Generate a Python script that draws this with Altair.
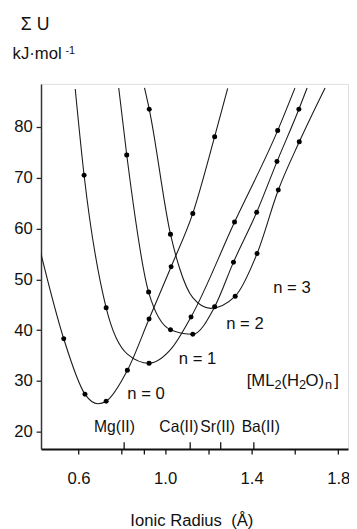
import altair as alt
import pandas as pd

# ---- curve vertices (ionic radius in Å, ΣU in kJ/mol) ----
n0_x = [0.427, 0.532, 0.630, 0.690, 0.728, 0.826, 0.926, 1.028, 1.128, 1.229, 1.289]
n0_y = [55.0, 38.3, 27.4, 25.5, 26.0, 32.1, 42.2, 52.5, 63.0, 78.1, 87.6]
n1_x = [0.585, 0.626, 0.728, 0.826, 0.926, 1.030, 1.120, 1.321, 1.520, 1.600]
n1_y = [87.5, 70.5, 44.4, 35.3, 33.5, 36.4, 42.6, 61.3, 79.3, 87.7]
n2_x = [0.786, 0.823, 0.924, 1.025, 1.128, 1.229, 1.316, 1.423, 1.517, 1.618, 1.656]
n2_y = [87.7, 74.5, 47.5, 40.1, 39.2, 44.6, 53.4, 63.2, 73.2, 83.5, 87.7]
n3_x = [0.905, 0.927, 1.025, 1.067, 1.128, 1.210, 1.324, 1.425, 1.523, 1.620, 1.739]
n3_y = [87.7, 83.5, 58.9, 52.2, 46.4, 44.3, 46.7, 55.1, 67.6, 77.1, 87.7]

# ---- marked data points ----
d0_x = [0.532, 0.630, 0.728, 0.826, 0.926, 1.028, 1.128, 1.229]
d0_y = [38.3, 27.4, 26.0, 32.1, 42.2, 52.5, 63.0, 78.1]
d1_x = [0.626, 0.728, 0.926, 1.120, 1.321, 1.520]
d1_y = [70.5, 44.4, 33.5, 42.6, 61.3, 79.3]
d2_x = [0.823, 0.924, 1.025, 1.128, 1.229, 1.316, 1.423, 1.517, 1.618]
d2_y = [74.5, 47.5, 40.1, 39.2, 44.6, 53.4, 63.2, 73.2, 83.5]
d3_x = [0.927, 1.025, 1.324, 1.425, 1.523, 1.620]
d3_y = [83.5, 58.9, 46.7, 55.1, 67.6, 77.1]

# ---- annotations ----
curve_labels = ["n = 0", "n = 1", "n = 2", "n = 3"]
curve_label_x = [0.912, 1.150, 1.369, 1.586]
curve_label_y = [27.4, 34.3, 41.2, 48.2]

formula_parts = ["[ML", "2", "(H", "2", "O)", "n", "]"]
formula_is_sub = [False, True, False, True, False, True, False]
formula_x = 1.377
formula_y = 30.0

ions = ["Mg(II)", "Ca(II)", "Sr(II)", "Ba(II)"]
ion_label_x = [0.766, 1.064, 1.243, 1.442]
ion_label_y = [20.9, 20.9, 20.9, 20.9]
ion_tick_x = [0.811, 1.116, 1.257, 1.410]

x_tick_values = [0.6, 0.8, 0.9, 1.0, 1.2, 1.4, 1.6, 1.8]
x_tick_labels = [0.6, 1.0, 1.4, 1.8]
y_tick_values = [20, 30, 40, 50, 60, 70, 80]

FONT = "Liberation Sans"
FS = 17
W, H = 313.4, 372.7
INK = "#111"

lines = pd.concat([
    pd.DataFrame({"x": xs, "y": ys, "n": k})
    for k, (xs, ys) in enumerate([(n0_x, n0_y), (n1_x, n1_y), (n2_x, n2_y), (n3_x, n3_y)])
])
dots = pd.concat([
    pd.DataFrame({"x": xs, "y": ys, "n": k})
    for k, (xs, ys) in enumerate([(d0_x, d0_y), (d1_x, d1_y), (d2_x, d2_y), (d3_x, d3_y)])
])
clabels = pd.DataFrame({"t": curve_labels, "x": curve_label_x, "y": curve_label_y})
ilabels = pd.DataFrame({"t": ions, "x": ion_label_x, "y": ion_label_y})
iticks = pd.DataFrame({"x": ion_tick_x})

xscale = alt.Scale(domain=[0.427, 1.845], nice=False, zero=False)
yscale = alt.Scale(domain=[16.6, 88.5], nice=False, zero=False)

show = "||".join(f"abs(datum.value-{v})<0.01" for v in x_tick_labels)
xaxis = alt.Axis(values=x_tick_values, labelExpr=f"({show}) ? format(datum.value,'.1f') : ''",
                 grid=False, tickSize=5, tickWidth=1.3, tickColor=INK, domainColor=INK,
                 domainWidth=2, labelFont=FONT, labelFontSize=FS, labelColor=INK,
                 labelPadding=17, title=None, labelFlush=False)
yaxis = alt.Axis(values=y_tick_values, grid=False, tickSize=5, tickWidth=1.3, tickColor="#222",
                 domainColor="#333", domainWidth=1.5, labelFont=FONT, labelFontSize=FS,
                 labelColor=INK, labelPadding=4, title=None)

line = alt.Chart(lines).mark_line(interpolate="monotone", color="#1a1a1a", strokeWidth=1.1, clip=True).encode(
    x=alt.X("x:Q", scale=xscale, axis=xaxis),
    y=alt.Y("y:Q", scale=yscale, axis=yaxis),
    detail="n:N",
)
pts = alt.Chart(dots).mark_circle(size=26, color="#000", opacity=1).encode(
    x=alt.X("x:Q", scale=xscale), y=alt.Y("y:Q", scale=yscale)
)
ctext = alt.Chart(clabels).mark_text(font=FONT, fontSize=FS, color=INK, align="center", baseline="middle").encode(
    x=alt.X("x:Q", scale=xscale), y=alt.Y("y:Q", scale=yscale), text="t:N"
)
itext = alt.Chart(ilabels).mark_text(font=FONT, fontSize=16, color=INK, align="center", baseline="middle").encode(
    x=alt.X("x:Q", scale=xscale), y=alt.Y("y:Q", scale=yscale), text="t:N"
)
itick = alt.Chart(iticks).mark_rule(color=INK, strokeWidth=1.3).encode(
    x=alt.X("x:Q", scale=xscale), y=alt.value(H - 7), y2=alt.value(H + 1)
)

# formula label built from pieces (main text and subscripts)
part_dx = [0, 28.3, 35.6, 53.3, 60.0, 80.0, 89.5]
formula_layers = []
for txt, sub, dx in zip(formula_parts, formula_is_sub, part_dx):
    formula_layers.append(
        alt.Chart(pd.DataFrame({"t": [txt], "x": [formula_x], "y": [formula_y]})).mark_text(
            font=FONT, fontSize=13 if sub else FS, color=INK, align="left", baseline="middle",
            dx=dx, dy=4 if sub else 0,
        ).encode(x=alt.X("x:Q", scale=xscale), y=alt.Y("y:Q", scale=yscale), text="t:N")
    )

t1 = alt.Chart(pd.DataFrame({"t": ["Σ U"]})).mark_text(font=FONT, fontSize=18, color=INK, align="center", baseline="middle").encode(
    x=alt.value(-6), y=alt.value(-60), text="t:N")
t2 = alt.Chart(pd.DataFrame({"t": ["kJ·mol"]})).mark_text(font=FONT, fontSize=FS, color=INK, align="left", baseline="middle").encode(
    x=alt.value(-29), y=alt.value(-30), text="t:N")
t3 = alt.Chart(pd.DataFrame({"t": ["-1"]})).mark_text(font=FONT, fontSize=11, color=INK, align="left", baseline="middle").encode(
    x=alt.value(25), y=alt.value(-34), text="t:N")
t4 = alt.Chart(pd.DataFrame({"t": ["Ionic Radius\u00a0\u00a0(Å)"]})).mark_text(font=FONT, fontSize=FS, color=INK, align="center", baseline="middle").encode(
    x=alt.value(154), y=alt.value(H + 74), text="t:N")

chart = alt.layer(line, pts, ctext, itext, itick, *formula_layers, t1, t2, t3, t4).properties(
    width=W, height=H,
    autosize=alt.AutoSizeParams(type="none"),
    padding={"left": 33.7, "top": 72, "right": 1, "bottom": 82},
).configure_view(stroke=None).configure(background="white")

chart.save("out.html", embed_options={"renderer": "svg", "actions": False})
